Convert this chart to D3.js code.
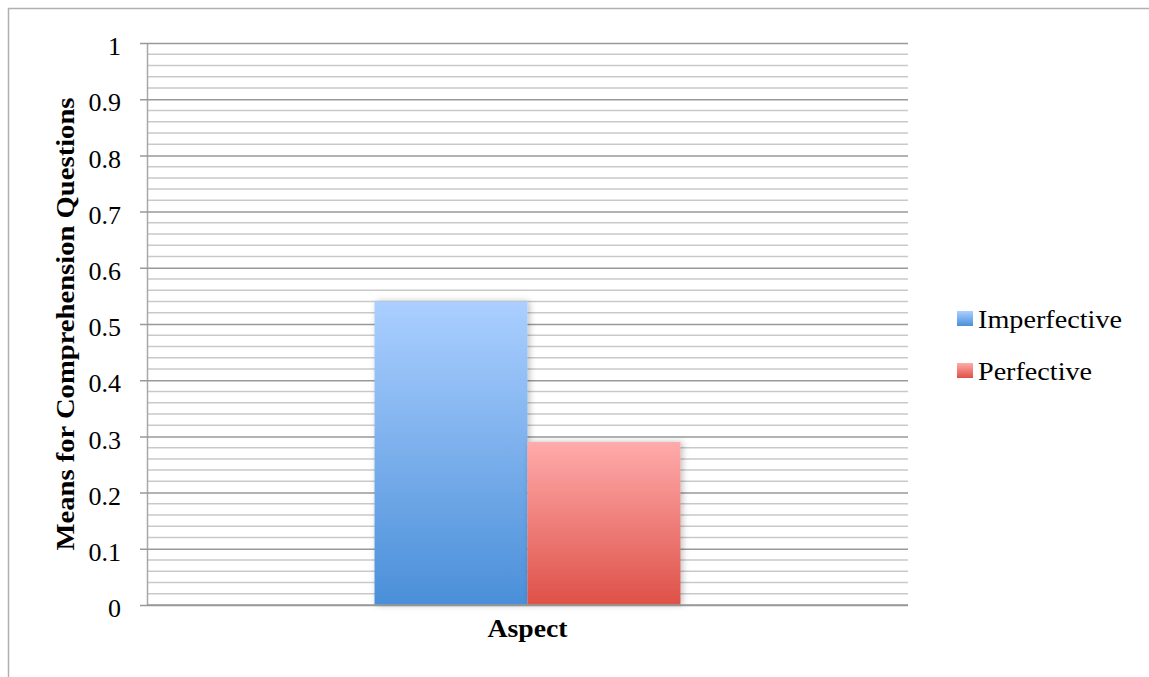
<!DOCTYPE html>
<html><head><meta charset="utf-8">
<script src="https://cdn.jsdelivr.net/npm/d3@7"></script>
<style>body{margin:0;background:#fff}svg{display:block}</style>
</head><body>
<svg id="c" width="1149" height="677"></svg>
<script>
const categories = ["Aspect"];
const seriesNames = ["Imperfective", "Perfective"];
const imperfectiveValues = [0.54];
const perfectiveValues = [0.29];
const yTickValues = [0, 0.1, 0.2, 0.3, 0.4, 0.5, 0.6, 0.7, 0.8, 0.9, 1];
const yTickLabels = ["0", "0.1", "0.2", "0.3", "0.4", "0.5", "0.6", "0.7", "0.8", "0.9", "1"];
const xTitle = "Aspect";
const yTitle = "Means for Comprehension Questions";

(function(){
const svg = d3.select("#c");
const W = 1149, H = 677;
const pL = 147, pR = 908, pT = 43, pB = 605;
const serif = "'Liberation Serif', 'DejaVu Serif', serif";

// outer frame
svg.append("path").attr("d", `M8.5,${H} V8.5 H${W}`).attr("fill","none").attr("stroke","#b0b0b0").attr("stroke-width",1.5);

const defs = svg.append("defs");
const grads = [["gBlue","#abcfff","#4a8fd9"],["gRed","#ffabab","#de5148"]];
grads.forEach(([id,a,b])=>{
  const g = defs.append("linearGradient").attr("id",id).attr("x1",0).attr("x2",0).attr("y1",0).attr("y2",1);
  g.append("stop").attr("offset","0%").attr("stop-color",a);
  g.append("stop").attr("offset","100%").attr("stop-color",b);
});
const f = defs.append("filter").attr("id","sh").attr("x","-10%").attr("y","-10%").attr("width","130%").attr("height","120%");
f.append("feDropShadow").attr("dx",2).attr("dy",0).attr("stdDeviation",3).attr("flood-color","#000").attr("flood-opacity",0.25);

const y = d3.scaleLinear().domain([0,1]).range([pB, pT]);
const x0 = d3.scaleBand().domain(categories).range([pL, pR]).paddingInner(0).paddingOuter(0.7435);
const x1 = d3.scaleBand().domain(seriesNames).range([0, x0.bandwidth()]);

// minor gridlines
const minor = d3.range(0, 1.0001, 0.02).filter(v => Math.abs(v*10 - Math.round(v*10)) > 1e-6);
svg.append("g").selectAll("line").data(minor).join("line")
  .attr("x1", pL).attr("x2", pR).attr("y1", d=>y(d)).attr("y2", d=>y(d))
  .attr("stroke","#c9c9c9").attr("stroke-width",1.5);

// major gridlines via axis
const yAxis = d3.axisLeft(y).tickValues(yTickValues).tickFormat((d,i)=>yTickLabels[i])
  .tickSizeInner(-(pR-pL)).tickSizeOuter(0).tickPadding(26);
const ga = svg.append("g").attr("transform",`translate(${pL},0)`).call(yAxis);
ga.select(".domain").attr("stroke","#a8a8a8").attr("stroke-width",1.5);
ga.selectAll(".tick line").attr("stroke","#999").attr("stroke-width",1.5).attr("x1",-7);
ga.selectAll(".tick text").attr("font-family",serif).attr("font-size",26).attr("fill","#000").attr("dy","0.45em");

// bars
const data = categories.map((c,i)=>({cat:c, vals:[imperfectiveValues[i], perfectiveValues[i]]}));
const fills = ["url(#gBlue)","url(#gRed)"];
const g = svg.append("g");
data.forEach(d=>{
  d.vals.forEach((v,j)=>{
    g.append("rect")
      .attr("x", x0(d.cat) + x1(seriesNames[j]))
      .attr("y", y(v))
      .attr("width", x1.bandwidth())
      .attr("height", y(0) - y(v))
      .attr("fill", fills[j])
      .attr("filter","url(#sh)");
  });
});

// x axis baseline
svg.append("line").attr("x1",pL).attr("x2",pR).attr("y1",pB).attr("y2",pB).attr("stroke","#999").attr("stroke-width",1.5);

// x category label
svg.append("text").attr("x", x0(categories[0]) + x0.bandwidth()/2).attr("y", 637)
  .attr("text-anchor","middle").attr("font-family",serif).attr("font-weight","bold").attr("font-size",25)
  .attr("textLength",80).attr("lengthAdjust","spacingAndGlyphs").text(xTitle);

// y title
svg.append("text").attr("transform",`translate(74,324) rotate(-90)`)
  .attr("text-anchor","middle").attr("font-family",serif).attr("font-weight","bold").attr("font-size",25)
  .attr("textLength",453).attr("lengthAdjust","spacingAndGlyphs").text(yTitle);

// legend
const lg = svg.append("g");
const legendLens = [144, 114];
seriesNames.forEach((s,i)=>{
  const yy = 318 + i*52;
  lg.append("rect").attr("x",957).attr("y",yy-7).attr("width",16).attr("height",15).attr("fill",fills[i]);
  lg.append("text").attr("x",978).attr("y",yy).attr("dy","0.4em").attr("font-family",serif).attr("font-size",26)
    .attr("textLength",legendLens[i]).attr("lengthAdjust","spacingAndGlyphs").text(s);
});
})();
</script>
</body></html>
